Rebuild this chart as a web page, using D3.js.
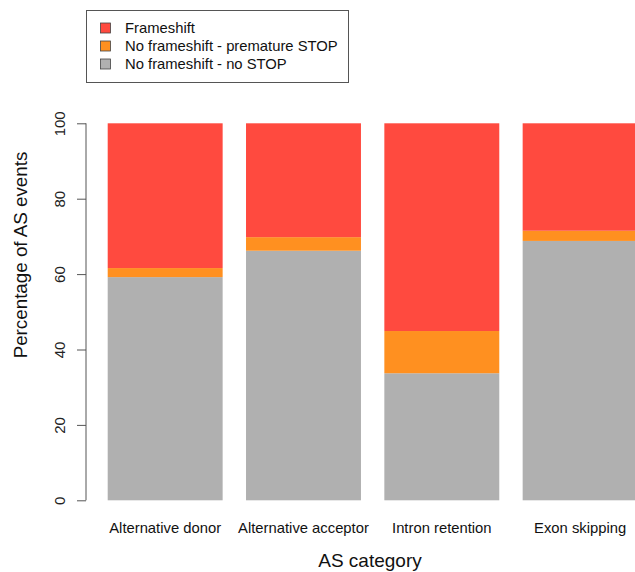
<!DOCTYPE html>
<html><head><meta charset="utf-8">
<script src="https://cdn.jsdelivr.net/npm/d3@7"></script>
<style>body{margin:0;background:#fff}svg{display:block;font-family:"Liberation Sans",Arial,Helvetica,sans-serif}</style>
</head><body>
<svg id="c" width="635" height="572"></svg>
<script>
const categories = ["Alternative donor","Alternative acceptor","Intron retention","Exon skipping"];
const seriesNames = ["No frameshift - no STOP","No frameshift - premature STOP","Frameshift"];
const noStop = [59.2, 66.2, 33.7, 68.8];
const prematureStop = [2.4, 3.6, 11.2, 2.7];
const frameshift = [38.4, 30.2, 55.1, 28.5];
const seriesColors = ["#b0b0b0","#ff9020","#ff4a3f"];
const yTicks = [0,20,40,60,80,100];
const legendOrder = [2,1,0];

const svg = d3.select("#c");
const rows = categories.map((c,i)=>({cat:c, s0:noStop[i], s1:prematureStop[i], s2:frameshift[i]}));
const stack = d3.stack().keys(["s0","s1","s2"])(rows);

const x = d3.scaleBand().domain(categories).range([107.7, 637.6]).paddingInner(0.169).paddingOuter(0);
const y = d3.scaleLinear().domain([0,100]).range([500.3, 123.3]);

svg.append("g").selectAll("g").data(stack).join("g")
  .attr("fill",(d,i)=>seriesColors[i])
  .selectAll("rect").data(d=>d).join("rect")
  .attr("x",d=>x(d.data.cat)).attr("width",x.bandwidth())
  .attr("y",d=>y(d[1])).attr("height",d=>y(d[0])-y(d[1]));

const yAxis = svg.append("g").attr("transform","translate(86,0)")
  .call(d3.axisLeft(y).tickValues(yTicks).tickSize(9).tickPadding(0).tickFormat(d3.format("d")));
yAxis.select(".domain").attr("stroke","#555").attr("d",`M0,${y(0)}V${y(100)}`);
yAxis.selectAll(".tick line").attr("stroke","#555");
yAxis.selectAll(".tick text").attr("font-size",15).attr("fill","#222")
  .attr("transform","rotate(-90)").attr("x",0).attr("y",-26).attr("dy","0.35em").attr("text-anchor","middle");

svg.append("g").selectAll("text").data(categories).join("text")
  .attr("x",d=>x(d)+x.bandwidth()/2).attr("y",533).attr("text-anchor","middle")
  .attr("font-size",14.8).attr("fill","#111").text(d=>d);

svg.append("text").attr("x",370).attr("y",567).attr("text-anchor","middle")
  .attr("font-size",19).attr("fill","#111").text("AS category");
svg.append("text").attr("transform","translate(27,255) rotate(-90)").attr("text-anchor","middle")
  .attr("font-size",18.8).attr("fill","#111").text("Percentage of AS events");

const lg = svg.append("g");
lg.append("rect").attr("x",86.5).attr("y",10.5).attr("width",262).attr("height",72)
  .attr("fill","#fff").attr("stroke","#555");
legendOrder.forEach((si,k)=>{
  const cy = 28 + k*18;
  lg.append("rect").attr("x",100.5).attr("y",cy-5).attr("width",10).attr("height",10)
    .attr("fill",seriesColors[si]).attr("stroke","#444").attr("stroke-width",0.8);
  lg.append("text").attr("x",125).attr("y",cy).attr("dy","0.35em").attr("font-size",14.8)
    .attr("fill","#111").text(seriesNames[si]);
});
</script>
</body></html>
